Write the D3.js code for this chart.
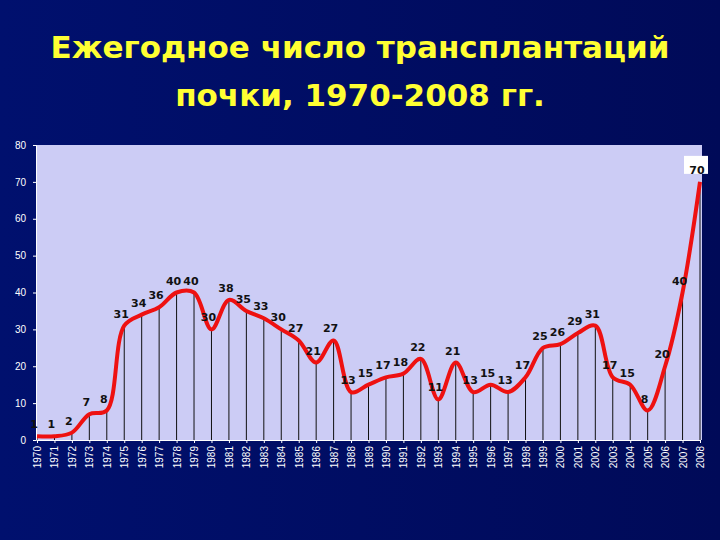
<!DOCTYPE html>
<html lang="ru">
<head>
<meta charset="UTF-8">
<script src="https://d3js.org/d3.v7.min.js"></script>
<style>
  body { margin: 0; background: #000a60; }
  svg { display: block; font-family: "DejaVu Sans", sans-serif; }
</style>
</head>
<body>
<svg width="720" height="540"></svg>
<script>
const years = d3.range(1970, 2009).map(String);
const values = [1, 1, 2, 7, 8, 31, 34, 36, 40, 40, 30, 38, 35, 33, 30, 27, 21, 27, 13, 15,
                17, 18, 22, 11, 21, 13, 15, 13, 17, 25, 26, 29, 31, 17, 15, 8, 20, 40, 70];
const yTicks = [0, 10, 20, 30, 40, 50, 60, 70, 80];
const titleLines = ["Ежегодное число трансплантаций", "почки, 1970-2008 гг."];

const svg = d3.select("svg");
const defs = svg.append("defs");
const grad = defs.append("linearGradient").attr("id", "bg").attr("x1", 0).attr("x2", 1).attr("y1", 0).attr("y2", 0);
grad.append("stop").attr("offset", "0%").attr("stop-color", "#00106e");
grad.append("stop").attr("offset", "100%").attr("stop-color", "#000a58");
svg.append("rect").attr("width", 720).attr("height", 540).attr("fill", "url(#bg)");

svg.selectAll(".title").data(titleLines).join("text")
  .attr("x", 360).attr("y", (d, i) => 58 + i * 48)
  .attr("text-anchor", "middle").attr("fill", "#ffff33")
  .attr("font-size", 31).attr("font-weight", "bold").text(d => d);

const plotLeft = 36, plotRight = 702, plotTop = 145, plotBottom = 440;
svg.append("rect").attr("x", plotLeft).attr("y", plotTop)
  .attr("width", plotRight - plotLeft).attr("height", plotBottom - plotTop)
  .attr("fill", "#ccccf5");

const x = d3.scalePoint().domain(years).range([plotLeft + 1, plotRight - 2]);
const y = d3.scaleLinear().domain([0, 80]).range([plotBottom, plotTop]);

// drop lines
svg.selectAll(".drop").data(values).join("line")
  .attr("x1", (d, i) => x(years[i])).attr("x2", (d, i) => x(years[i]))
  .attr("y1", d => y(d)).attr("y2", plotBottom)
  .attr("stroke", "#111").attr("stroke-width", 1);

const yAxis = svg.append("g").attr("transform", `translate(${plotLeft},0)`)
  .call(d3.axisLeft(y).tickValues(yTicks).tickSize(3));
yAxis.select(".domain").attr("stroke", "#fff");
yAxis.selectAll("line").attr("stroke", "#fff");
yAxis.selectAll("text").attr("fill", "#fff").attr("font-size", 10).attr("x", -10);

const xAxis = svg.append("g").attr("transform", `translate(0,${plotBottom})`)
  .call(d3.axisBottom(x).tickSize(3));
xAxis.select(".domain").attr("stroke", "#fff");
xAxis.selectAll("line").attr("stroke", "#fff");
xAxis.selectAll("text").attr("fill", "#fff").attr("font-size", 10)
  .attr("transform", "rotate(-90)").attr("text-anchor", "end")
  .attr("x", -6).attr("y", 0).attr("dy", "0.35em");

const line = d3.line().x((d, i) => x(years[i])).y(d => y(d)).curve(d3.curveCatmullRom.alpha(0.5));
svg.append("path").datum(values).attr("d", line)
  .attr("fill", "none").attr("stroke", "#ee1111").attr("stroke-width", 4);

const last = values.length - 1;
svg.append("rect").attr("x", x(years[last]) - 16).attr("y", y(values[last]) - 26)
  .attr("width", 24).attr("height", 18).attr("fill", "#fff");

svg.selectAll(".lab").data(values).join("text")
  .attr("x", (d, i) => x(years[i]) - 3).attr("y", d => y(d) - 8)
  .attr("text-anchor", "middle").attr("fill", "#111").attr("font-size", 11)
  .attr("font-weight", "bold").text(d => d);
</script>
</body>
</html>
